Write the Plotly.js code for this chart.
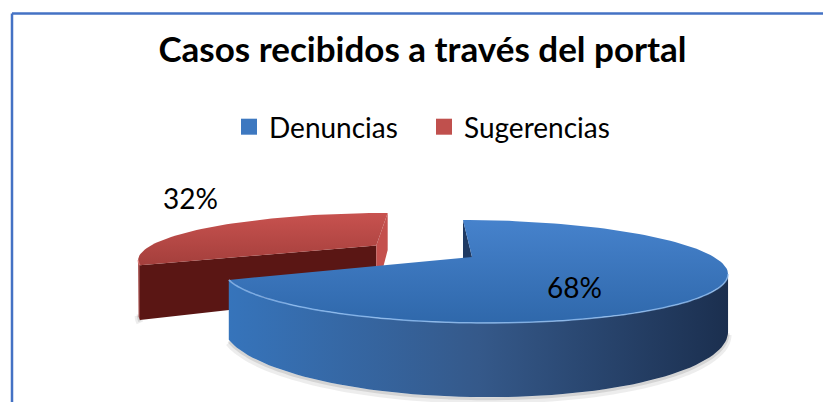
<!DOCTYPE html>
<html>
<head>
<meta charset="utf-8">
<script src="https://cdn.plot.ly/plotly-3.0.1.min.js"></script>
<style>html,body{margin:0;padding:0;background:#fff;}#chart{width:823px;height:402px;}</style>
</head>
<body>
<div id="chart"></div>
<script>
// ---- data ----
const categories = ['Denuncias', 'Sugerencias'];
const values = [68, 32];
const chartTitle = 'Casos recibidos a través del portal';

// ---- style / geometry (perspective view of the pie) ----
const W = 823, H = 402;
const VX = 431;               // vanishing x of the camera
const X0 = 41;                // pie centre offset from the vanishing x
const CY = 257;               // pie centre y on the top face
const A = 242, B = 47.4, K = 0.2816; // top face radii and perspective factor
const CYB = 309, B2 = 63.4;   // bottom rim
const explode = [0, 0.488];
const topColors = [['#4682cc', '#2f68ab'], ['#c8524f', '#a43f3c']];
const wallColors = [['#3674bb', '#35598a', '#1b2f4f'], ['#9a2f2c', '#7a2220']];
const cutColors = [['#1f3a63', '#1f3a63'], ['#5a1614', '#c4504d']];
const rimColors = ['rgba(150,195,245,0.75)', 'rgba(230,130,125,0.6)'];
const legendColors = ['#3d78c0', '#c0504d'];
const labelRadius = [0.5, 1.25];
const labelShift = [[-11, -16], [8, 24]];
const FONT = 'Lato, "Open Sans", sans-serif';

const camX = -X0 / A, camY = -1 / K;
function proj(X, Y, bottom, dy) {
  const s = 1 / (1 + K * Y);
  const x = VX + (X0 + A * X) * s;
  const y = bottom ? CYB - B2 * Y * s : CY - B * Y * s;
  return [x, y + (dy || 0)];
}
const rad = d => d * Math.PI / 180;
const deg = r => r * 180 / Math.PI;

const total = values.reduce((a, b) => a + b, 0);
let cum = 0;
const slices = values.map((v, i) => {
  const f = v / total;
  const t0 = 90 - 360 * cum;      // clockwise start
  const t1 = 90 - 360 * (cum + f);
  cum += f;
  const bis = (t0 + t1) / 2;
  const ex = explode[i] * Math.cos(rad(bis)), ey = explode[i] * Math.sin(rad(bis));
  // visible outer-wall range (silhouette from camera position)
  const dx = camX - ex, dy = camY - ey;
  const phi = deg(Math.atan2(dy, dx));
  const alpha = deg(Math.acos(1 / Math.hypot(dx, dy)));
  return {i, f, t0, t1, bis, ex, ey, vlo: phi - alpha, vhi: phi + alpha};
});

function arc(sl, a0, a1, bottom, dy) {
  const pts = [];
  const n = Math.max(2, Math.ceil(Math.abs(a1 - a0) / 2));
  for (let k = 0; k <= n; k++) {
    const t = rad(a0 + (a1 - a0) * k / n);
    pts.push(proj(sl.ex + Math.cos(t), sl.ey + Math.sin(t), bottom, dy));
  }
  return pts;
}
function polyTrace(pts, fill, grad) {
  const t = {
    type: 'scatter', mode: 'lines', fill: 'toself',
    x: pts.map(p => p[0]), y: pts.map(p => p[1]),
    line: {width: 0, color: fill}, fillcolor: fill,
    hoverinfo: 'skip', showlegend: false
  };
  if (grad) t.fillgradient = grad;
  return t;
}
function lineTrace(pts, color, width) {
  return {type: 'scatter', mode: 'lines', x: pts.map(p => p[0]), y: pts.map(p => p[1]),
    line: {color: color, width: width, shape: 'spline'}, hoverinfo: 'skip', showlegend: false};
}
function visibleRanges(sl) {
  const out = [];
  [0, -360, 360].forEach(sh => {
    const lo = Math.max(sl.t1 + sh, sl.vlo), hi = Math.min(sl.t0 + sh, sl.vhi);
    if (hi > lo) out.push([lo, hi]);
  });
  return out;
}

const traces = [];
// soft shadows under the visible walls
slices.forEach(sl => {
  visibleRanges(sl).forEach(([lo, hi]) => {
    traces.push(lineTrace(arc(sl, lo, hi, true, 3), 'rgba(0,0,0,0.07)', 7));
    traces.push(lineTrace(arc(sl, lo, hi, true, 1.5), 'rgba(0,0,0,0.10)', 3));
  });
});

// back slices first
const order = slices.slice().sort((a, b) => Math.sin(rad(b.bis)) - Math.sin(rad(a.bis)));
order.forEach(sl => {
  const i = sl.i;
  // outer wall, visible part only
  visibleRanges(sl).forEach(([lo, hi]) => {
    const top = arc(sl, hi, lo, false);
    const bot = arc(sl, lo, hi, true);
    const wc = wallColors[i];
    const cs = wc.map((c, k) => [k / (wc.length - 1), c]);
    traces.push(polyTrace(top.concat(bot), wc[0], {type: 'horizontal', colorscale: cs}));
  });
  // radial cut faces, drawn when they face the camera
  [[sl.t0, sl.t0 + 90, 0], [sl.t1, sl.t1 - 90, 1]].forEach(([ang, nrm, which]) => {
    const n = [Math.cos(rad(nrm)), Math.sin(rad(nrm))];
    const dot = n[0] * (camX - sl.ex) + n[1] * (camY - sl.ey);
    if (dot > 0.02) {
      const t = rad(ang);
      const pts = [proj(sl.ex, sl.ey, false),
                   proj(sl.ex + Math.cos(t), sl.ey + Math.sin(t), false),
                   proj(sl.ex + Math.cos(t), sl.ey + Math.sin(t), true),
                   proj(sl.ex, sl.ey, true)];
      traces.push(polyTrace(pts, cutColors[i][which]));
    }
  });
  // top face
  const topPts = [proj(sl.ex, sl.ey, false)].concat(arc(sl, sl.t0, sl.t1, false));
  topPts.push(proj(sl.ex, sl.ey, false));
  traces.push(polyTrace(topPts, topColors[i][0],
    {type: 'vertical', colorscale: [[0, topColors[i][1]], [1, topColors[i][0]]]}));
  // light rim highlight on the front edge
  visibleRanges(sl).forEach(([lo, hi]) => {
    traces.push(lineTrace(arc(sl, lo, hi, false), rimColors[i], 1.5));
  });
});

// legend entries
categories.forEach((c, i) => {
  traces.push({type: 'scatter', mode: 'markers', x: [null], y: [null], name: c,
    marker: {symbol: 'square', size: 19, color: legendColors[i], line: {width: 0}},
    hoverinfo: 'skip', showlegend: true});
});

// percentage labels
const annotations = slices.map(sl => {
  const r = labelRadius[sl.i], t = rad(sl.bis);
  const p = proj(sl.ex + r * Math.cos(t), sl.ey + r * Math.sin(t), false);
  return {x: p[0], y: p[1], xref: 'x', yref: 'y', showarrow: false,
    text: Math.round(sl.f * 100) + '%', xshift: labelShift[sl.i][0], yshift: labelShift[sl.i][1],
    font: {family: FONT, size: 28, color: '#000'}};
});

const layout = {
  width: W, height: H,
  margin: {l: 0, r: 0, t: 0, b: 0},
  paper_bgcolor: '#fff', plot_bgcolor: '#fff',
  xaxis: {range: [0, W], visible: false, fixedrange: true},
  yaxis: {range: [H, 0], visible: false, fixedrange: true},
  title: {text: '<b>' + chartTitle + '</b>', x: 422.5 / W, xanchor: 'center', y: 1 - 50 / H, yanchor: 'middle',
    font: {family: FONT, size: 35, color: '#000'}},
  showlegend: true,
  legend: {orientation: 'h', x: 229 / W, xanchor: 'left', y: 1 - 127 / H, yanchor: 'middle',
    font: {family: FONT, size: 28, color: '#000'}, bgcolor: 'rgba(0,0,0,0)',
    entrywidth: 150, entrywidthmode: 'pixels'},
  annotations: annotations,
  shapes: [
    {type: 'line', xref: 'paper', yref: 'paper', x0: 12 / W, x1: 1, y0: 1 - 13.5 / H, y1: 1 - 13.5 / H, line: {color: '#4472c4', width: 2.5}},
    {type: 'line', xref: 'paper', yref: 'paper', x0: 12 / W, x1: 12 / W, y0: 0, y1: 1 - 13.5 / H, line: {color: '#4472c4', width: 2.5}}
  ]
};

Plotly.newPlot('chart', traces, layout, {staticPlot: true, displayModeBar: false});
</script>
</body>
</html>
